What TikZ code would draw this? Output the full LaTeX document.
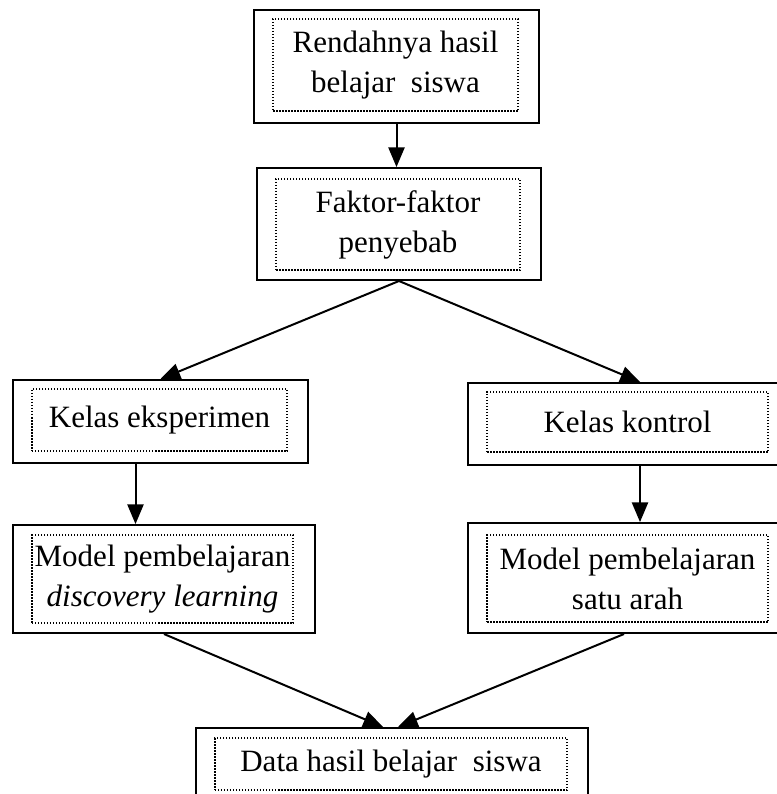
\documentclass[tikz,border=0pt]{standalone}
\usepackage{fontspec}
\setmainfont{Liberation Serif}
\usetikzlibrary{arrows,positioning}

\begin{document}
\begin{tikzpicture}[x=0.4pt,y=-0.4pt,->,>=triangle 45,line width=0.8pt,
  outer/.style={draw,rectangle,inner sep=0pt,line width=0.8pt},
  inner/.style={draw,rectangle,inner sep=0pt,line width=0.6pt,
    dash pattern=on 0.6pt off 0.6pt,align=center,
    font=\fontsize{12.4}{16}\selectfont}]

  \useasboundingbox (0,0) rectangle (777,794);
  \clip (0,0) rectangle (777,794);

  % outer boxes
  \node[outer,minimum width=114pt,  minimum height=45.2pt] (R)  at (396.5,66.5) {};
  \node[outer,minimum width=113.6pt,minimum height=44.8pt] (F)  at (399,224)    {};
  \node[outer,minimum width=118pt,  minimum height=33.2pt] (KE) at (160.5,421.5) {};
  \node[outer,minimum width=137.6pt,minimum height=32.8pt] (KK) at (640,424)    {};
  \node[outer,minimum width=120.8pt,minimum height=43.2pt] (ME) at (164,579)    {};
  \node[outer,minimum width=137.6pt,minimum height=44pt]   (MK) at (640,578)    {};
  \node[outer,minimum width=156.8pt,minimum height=28.8pt] (D)  at (392,764)    {};

  % dotted inner boxes with the texts
  \node[inner,minimum width=98pt,   minimum height=36.8pt] (Ri)  at (395.5,65)  {Rendahnya hasil\\belajar~~siswa};
  \node[inner,minimum width=97.6pt, minimum height=36.4pt] (Fi)  at (398,224.5) {Faktor-faktor\\penyebab};
  \node[inner,minimum width=102pt,  minimum height=24.8pt] (KEi) at (159.5,420) {Kelas eksperimen};
  \node[inner,minimum width=112.4pt,minimum height=24pt]   (KKi) at (627.5,422) {Kelas kontrol};
  \node[inner,minimum width=104.4pt,minimum height=35.2pt] (MEi) at (162.5,579) {Model pembelajaran\\\textit{discovery learning}};
  \node[inner,minimum width=112.4pt,minimum height=34.8pt] (MKi) at (627.5,578.5) {Model pembelajaran\\satu arah};
  \node[inner,minimum width=140.8pt,minimum height=20.8pt] (Di)  at (391,764)   {Data hasil belajar~~siswa};

  \path (R.south) edge (R.south |- F.north)
        (F.south) edge (KE.north)
                  edge (KK.north)
        ([xshift=-10pt]KE.south) edge ([xshift=-10pt]KE.south |- ME.north)
        (KK.south) edge (MK.north)
        (ME.south) edge ([xshift=-3.6pt]D.north)
        ([xshift=-6.4pt]MK.south) edge ([xshift=2.4pt]D.north);
\end{tikzpicture}
\end{document}
